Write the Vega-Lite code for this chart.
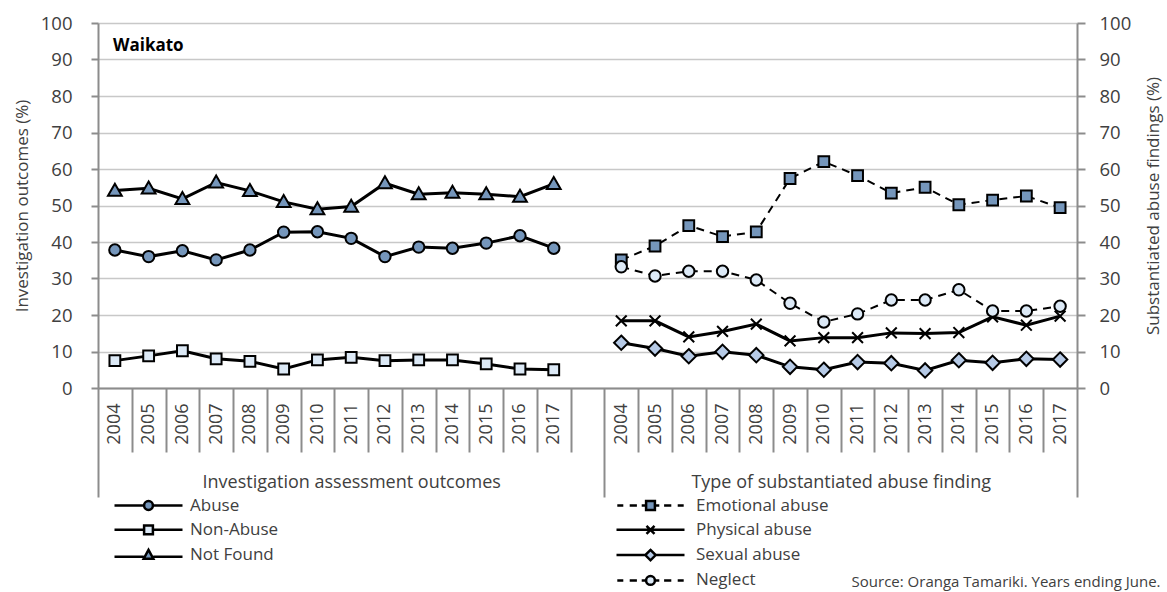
{
  "$schema": "https://vega.github.io/schema/vega-lite/v6.json",
  "width": 979,
  "height": 365,
  "autosize": {"type": "none"},
  "padding": {"left": 98, "top": 23, "right": 90, "bottom": 204},
  "config": {"view": {"stroke": null}, "font": "Open Sans"},
  "title": {"text": "Waikato", "anchor": "start", "frame": "group", "orient": "top", "offset": -49, "baseline": "middle", "dx": 15, "fontSize": 17, "fontWeight": "bold", "color": "#000000", "font": "Open Sans"},
  "datasets": {
    "d": [
      {"key": "L2004", "series": "Abuse", "value": 37.8},
      {"key": "L2005", "series": "Abuse", "value": 36.0},
      {"key": "L2006", "series": "Abuse", "value": 37.6},
      {"key": "L2007", "series": "Abuse", "value": 35.1},
      {"key": "L2008", "series": "Abuse", "value": 37.8},
      {"key": "L2009", "series": "Abuse", "value": 42.7},
      {"key": "L2010", "series": "Abuse", "value": 42.8},
      {"key": "L2011", "series": "Abuse", "value": 41.0},
      {"key": "L2012", "series": "Abuse", "value": 36.0},
      {"key": "L2013", "series": "Abuse", "value": 38.6},
      {"key": "L2014", "series": "Abuse", "value": 38.3},
      {"key": "L2015", "series": "Abuse", "value": 39.7},
      {"key": "L2016", "series": "Abuse", "value": 41.7},
      {"key": "L2017", "series": "Abuse", "value": 38.3},
      {"key": "L2004", "series": "Non-Abuse", "value": 7.5},
      {"key": "L2005", "series": "Non-Abuse", "value": 8.8},
      {"key": "L2006", "series": "Non-Abuse", "value": 10.2},
      {"key": "L2007", "series": "Non-Abuse", "value": 8.0},
      {"key": "L2008", "series": "Non-Abuse", "value": 7.3},
      {"key": "L2009", "series": "Non-Abuse", "value": 5.2},
      {"key": "L2010", "series": "Non-Abuse", "value": 7.7},
      {"key": "L2011", "series": "Non-Abuse", "value": 8.4},
      {"key": "L2012", "series": "Non-Abuse", "value": 7.5},
      {"key": "L2013", "series": "Non-Abuse", "value": 7.7},
      {"key": "L2014", "series": "Non-Abuse", "value": 7.7},
      {"key": "L2015", "series": "Non-Abuse", "value": 6.6},
      {"key": "L2016", "series": "Non-Abuse", "value": 5.2},
      {"key": "L2017", "series": "Non-Abuse", "value": 5.0},
      {"key": "L2004", "series": "Not Found", "value": 54.1},
      {"key": "L2005", "series": "Not Found", "value": 54.7},
      {"key": "L2006", "series": "Not Found", "value": 51.8},
      {"key": "L2007", "series": "Not Found", "value": 56.3},
      {"key": "L2008", "series": "Not Found", "value": 54.0},
      {"key": "L2009", "series": "Not Found", "value": 51.0},
      {"key": "L2010", "series": "Not Found", "value": 49.0},
      {"key": "L2011", "series": "Not Found", "value": 49.7},
      {"key": "L2012", "series": "Not Found", "value": 56.1},
      {"key": "L2013", "series": "Not Found", "value": 53.1},
      {"key": "L2014", "series": "Not Found", "value": 53.5},
      {"key": "L2015", "series": "Not Found", "value": 53.1},
      {"key": "L2016", "series": "Not Found", "value": 52.4},
      {"key": "L2017", "series": "Not Found", "value": 55.9},
      {"key": "R2004", "series": "Emotional abuse", "value": 35.1},
      {"key": "R2005", "series": "Emotional abuse", "value": 38.9},
      {"key": "R2006", "series": "Emotional abuse", "value": 44.5},
      {"key": "R2007", "series": "Emotional abuse", "value": 41.5},
      {"key": "R2008", "series": "Emotional abuse", "value": 42.8},
      {"key": "R2009", "series": "Emotional abuse", "value": 57.4},
      {"key": "R2010", "series": "Emotional abuse", "value": 62.0},
      {"key": "R2011", "series": "Emotional abuse", "value": 58.2},
      {"key": "R2012", "series": "Emotional abuse", "value": 53.4},
      {"key": "R2013", "series": "Emotional abuse", "value": 55.0},
      {"key": "R2014", "series": "Emotional abuse", "value": 50.2},
      {"key": "R2015", "series": "Emotional abuse", "value": 51.5},
      {"key": "R2016", "series": "Emotional abuse", "value": 52.6},
      {"key": "R2017", "series": "Emotional abuse", "value": 49.4},
      {"key": "R2004", "series": "Physical abuse", "value": 18.4},
      {"key": "R2005", "series": "Physical abuse", "value": 18.4},
      {"key": "R2006", "series": "Physical abuse", "value": 14.0},
      {"key": "R2007", "series": "Physical abuse", "value": 15.5},
      {"key": "R2008", "series": "Physical abuse", "value": 17.5},
      {"key": "R2009", "series": "Physical abuse", "value": 12.9},
      {"key": "R2010", "series": "Physical abuse", "value": 13.8},
      {"key": "R2011", "series": "Physical abuse", "value": 13.8},
      {"key": "R2012", "series": "Physical abuse", "value": 15.1},
      {"key": "R2013", "series": "Physical abuse", "value": 14.9},
      {"key": "R2014", "series": "Physical abuse", "value": 15.2},
      {"key": "R2015", "series": "Physical abuse", "value": 19.5},
      {"key": "R2016", "series": "Physical abuse", "value": 17.2},
      {"key": "R2017", "series": "Physical abuse", "value": 19.7},
      {"key": "R2004", "series": "Sexual abuse", "value": 12.4},
      {"key": "R2005", "series": "Sexual abuse", "value": 10.8},
      {"key": "R2006", "series": "Sexual abuse", "value": 8.7},
      {"key": "R2007", "series": "Sexual abuse", "value": 9.9},
      {"key": "R2008", "series": "Sexual abuse", "value": 9.0},
      {"key": "R2009", "series": "Sexual abuse", "value": 5.8},
      {"key": "R2010", "series": "Sexual abuse", "value": 5.0},
      {"key": "R2011", "series": "Sexual abuse", "value": 7.1},
      {"key": "R2012", "series": "Sexual abuse", "value": 6.8},
      {"key": "R2013", "series": "Sexual abuse", "value": 4.8},
      {"key": "R2014", "series": "Sexual abuse", "value": 7.6},
      {"key": "R2015", "series": "Sexual abuse", "value": 6.9},
      {"key": "R2016", "series": "Sexual abuse", "value": 8.0},
      {"key": "R2017", "series": "Sexual abuse", "value": 7.8},
      {"key": "R2004", "series": "Neglect", "value": 33.2},
      {"key": "R2005", "series": "Neglect", "value": 30.7},
      {"key": "R2006", "series": "Neglect", "value": 32.0},
      {"key": "R2007", "series": "Neglect", "value": 32.0},
      {"key": "R2008", "series": "Neglect", "value": 29.6},
      {"key": "R2009", "series": "Neglect", "value": 23.2},
      {"key": "R2010", "series": "Neglect", "value": 18.1},
      {"key": "R2011", "series": "Neglect", "value": 20.3},
      {"key": "R2012", "series": "Neglect", "value": 24.1},
      {"key": "R2013", "series": "Neglect", "value": 24.1},
      {"key": "R2014", "series": "Neglect", "value": 26.9},
      {"key": "R2015", "series": "Neglect", "value": 21.1},
      {"key": "R2016", "series": "Neglect", "value": 21.1},
      {"key": "R2017", "series": "Neglect", "value": 22.4}
    ],
    "g": [{"p": 0, "v": 0}]
  },
  "layer": [
    {
      "data": {"name": "d"},
      "encoding": {
        "x": {
          "field": "key", "type": "ordinal", "sort": null, "bandPosition": 0.5,
          "scale": {"type": "band", "paddingInner": 0, "paddingOuter": 0,
            "domain": ["L2004","L2005","L2006","L2007","L2008","L2009","L2010","L2011","L2012","L2013","L2014","L2015","L2016","L2017","gap","R2004","R2005","R2006","R2007","R2008","R2009","R2010","R2011","R2012","R2013","R2014","R2015","R2016","R2017"]},
          "axis": {"title": null, "orient": "bottom", "ticks": false, "labels": false, "domainColor": "#8c8c8c", "domainWidth": 2, "grid": false}
        },
        "y": {
          "field": "value", "type": "quantitative",
          "scale": {"domain": [0, 100], "nice": false},
          "axis": {"orient": "left", "values": [0,10,20,30,40,50,60,70,80,90,100], "grid": true, "gridColor": "#c8c8c8", "gridWidth": 1.5,
            "domainColor": "#8c8c8c", "domainWidth": 2, "tickColor": "#8c8c8c", "tickWidth": 2, "tickSize": 7,
            "labelPadding": 19, "labelFontSize": 18.5, "labelColor": "#404040", "labelFont": "Open Sans",
            "title": "Investigation outcomes (%)", "titleFontSize": 17, "titleFontWeight": "normal", "titleColor": "#404040", "titleFont": "Open Sans", "titlePadding": 9}
        }
      },
      "layer": [
        {
          "transform": [{"filter": {"field": "series", "oneOf": ["Abuse", "Non-Abuse", "Not Found", "Physical abuse", "Sexual abuse"]}}],
          "mark": {"type": "line", "color": "#000000", "strokeWidth": 3},
          "encoding": {"detail": {"field": "series"}}
        },
        {
          "transform": [{"filter": {"field": "series", "oneOf": ["Emotional abuse", "Neglect"]}}],
          "mark": {"type": "line", "color": "#000000", "strokeWidth": 2, "strokeDash": [8, 6]},
          "encoding": {"detail": {"field": "series"}}
        },
        {
          "transform": [{"filter": {"field": "series", "equal": "Abuse"}}],
          "mark": {"type": "point", "filled": true, "fill": "#7596bb", "stroke": "#000000", "strokeWidth": 2, "size": 144, "opacity": 1,
            "shape": "M-0.95,0A0.95,0.95 0 1,1 0.95,0A0.95,0.95 0 1,1 -0.95,0Z"}
        },
        {
          "transform": [{"filter": {"field": "series", "equal": "Non-Abuse"}}],
          "mark": {"type": "point", "filled": true, "fill": "#dce9f6", "stroke": "#000000", "strokeWidth": 2, "size": 144, "opacity": 1,
            "shape": "M-0.9,-0.9H0.9V0.9H-0.9Z"}
        },
        {
          "transform": [{"filter": {"field": "series", "equal": "Not Found"}}],
          "mark": {"type": "point", "filled": true, "fill": "#7596bb", "stroke": "#000000", "strokeWidth": 2, "size": 144, "opacity": 1,
            "shape": "M0,-1.15L1.15,0.85L-1.15,0.85Z"}
        },
        {
          "transform": [{"filter": {"field": "series", "equal": "Emotional abuse"}}],
          "mark": {"type": "point", "filled": true, "fill": "#7596bb", "stroke": "#000000", "strokeWidth": 2, "size": 144, "opacity": 1,
            "shape": "M-0.9,-0.9H0.9V0.9H-0.9Z"}
        },
        {
          "transform": [{"filter": {"field": "series", "equal": "Physical abuse"}}],
          "mark": {"type": "point", "filled": true, "fill": "#000000", "stroke": "#000000", "strokeWidth": 2, "size": 144, "opacity": 1,
            "shape": "M-0.9,-0.9L0.9,0.9M-0.9,0.9L0.9,-0.9"}
        },
        {
          "transform": [{"filter": {"field": "series", "equal": "Sexual abuse"}}],
          "mark": {"type": "point", "filled": true, "fill": "#b6cae6", "stroke": "#000000", "strokeWidth": 2, "size": 144, "opacity": 1,
            "shape": "M0,-1.2L1.2,0L0,1.2L-1.2,0Z"}
        },
        {
          "transform": [{"filter": {"field": "series", "equal": "Neglect"}}],
          "mark": {"type": "point", "filled": true, "fill": "#dce9f6", "stroke": "#000000", "strokeWidth": 2, "size": 144, "opacity": 1,
            "shape": "M-0.95,0A0.95,0.95 0 1,1 0.95,0A0.95,0.95 0 1,1 -0.95,0Z"}
        },
        {
          "transform": [{"filter": "false"}],
          "mark": {"type": "point", "filled": true, "stroke": "#000000", "strokeWidth": 2.5, "size": 64, "opacity": 1},
          "encoding": {
            "shape": {"field": "series", "type": "nominal",
              "scale": {"domain": ["Abuse", "Non-Abuse", "Not Found"],
                "range": [
                  "M-8.5,0H-1.1M1.1,0H8.5M-1.1,0A1.1,1.1 0 1,1 1.1,0A1.1,1.1 0 1,1 -1.1,0Z",
                  "M-8.5,0H-1.1M1.1,0H8.5M-1.1,-1.1H1.1V1.1H-1.1Z",
                  "M-8.5,0.4H-1.2M1.2,0.4H8.5M0,-1.3L1.2,0.9L-1.2,0.9Z"
                ]},
              "legend": {"orient": "none", "legendX": 42, "legendY": 474, "title": null, "padding": 0, "symbolSize": 64,
                "symbolStrokeColor": "#000000", "symbolStrokeWidth": 2.5, "labelFontSize": 17, "labelFont": "Open Sans", "labelColor": "#404040",
                "labelOffset": 33, "rowPadding": 5.3, "labelLimit": 400}},
            "stroke": {"field": "series", "type": "nominal",
              "scale": {"domain": ["Abuse", "Non-Abuse", "Not Found"], "range": ["#000000", "#000000", "#000000"]},
              "legend": {"orient": "none", "legendX": 42, "legendY": 474, "title": null, "padding": 0, "symbolSize": 64,
                "symbolStrokeColor": "#000000", "symbolStrokeWidth": 2.5, "labelFontSize": 17, "labelFont": "Open Sans", "labelColor": "#404040",
                "labelOffset": 33, "rowPadding": 5.3, "labelLimit": 400}},
            "fill": {"field": "series", "type": "nominal",
              "scale": {"domain": ["Abuse", "Non-Abuse", "Not Found"], "range": ["#7596bb", "#dce9f6", "#7596bb"]},
              "legend": {"orient": "none", "legendX": 42, "legendY": 474, "title": null, "padding": 0, "symbolSize": 64,
                "symbolStrokeColor": "#000000", "symbolStrokeWidth": 2.5, "labelFontSize": 17, "labelFont": "Open Sans", "labelColor": "#404040",
                "labelOffset": 33, "rowPadding": 5.3, "labelLimit": 400}}
          }
        },
        {
          "transform": [{"filter": "false"}],
          "mark": {"type": "point", "filled": true, "stroke": "#000000", "strokeWidth": 2.5, "size": 64, "opacity": 1},
          "encoding": {
            "shape": {"field": "series", "type": "nominal",
              "scale": {"domain": ["Emotional abuse", "Physical abuse", "Sexual abuse", "Neglect"],
                "range": [
                  "M-8.3,0H-6.8M-5.2,0H-3.4M-2.2,0H-1.1M1.1,0H2.2M3.4,0H5.2M6.8,0H8.3M-1.1,-1.1H1.1V1.1H-1.1Z",
                  "M-8.5,0H8.5M-1,-1L1,1M-1,1L1,-1",
                  "M-8.5,0H-1.3M1.3,0H8.5M0,-1.3L1.3,0L0,1.3L-1.3,0Z",
                  "M-8.3,0H-6.8M-5.2,0H-3.4M-2.2,0H-1.1M1.1,0H2.2M3.4,0H5.2M6.8,0H8.3M-1.1,0A1.1,1.1 0 1,1 1.1,0A1.1,1.1 0 1,1 -1.1,0Z"
                ]},
              "legend": {"orient": "none", "legendX": 544, "legendY": 474, "title": null, "padding": 0, "symbolSize": 64,
                "symbolStrokeColor": "#000000", "symbolStrokeWidth": 2.5, "labelFontSize": 17, "labelFont": "Open Sans", "labelColor": "#404040",
                "labelOffset": 37, "rowPadding": 5.3, "labelLimit": 400}},
            "stroke": {"field": "series", "type": "nominal",
              "scale": {"domain": ["Emotional abuse", "Physical abuse", "Sexual abuse", "Neglect"], "range": ["#000000", "#000000", "#000000", "#000000"]},
              "legend": {"orient": "none", "legendX": 544, "legendY": 474, "title": null, "padding": 0, "symbolSize": 64,
                "symbolStrokeColor": "#000000", "symbolStrokeWidth": 2.5, "labelFontSize": 17, "labelFont": "Open Sans", "labelColor": "#404040",
                "labelOffset": 37, "rowPadding": 5.3, "labelLimit": 400}},
            "fill": {"field": "series", "type": "nominal",
              "scale": {"domain": ["Emotional abuse", "Physical abuse", "Sexual abuse", "Neglect"], "range": ["#7596bb", "#000000", "#b6cae6", "#dce9f6"]},
              "legend": {"orient": "none", "legendX": 544, "legendY": 474, "title": null, "padding": 0, "symbolSize": 64,
                "symbolStrokeColor": "#000000", "symbolStrokeWidth": 2.5, "labelFontSize": 17, "labelFont": "Open Sans", "labelColor": "#404040",
                "labelOffset": 37, "rowPadding": 5.3, "labelLimit": 400}}
          }
        }
      ],
      "resolve": {"scale": {"shape": "independent", "fill": "independent", "stroke": "independent"}}
    },
    {
      "data": {"name": "g"},
      "mark": {"type": "point", "opacity": 0},
      "encoding": {
        "x": {"field": "p", "type": "quantitative", "scale": {"domain": [0, 29], "nice": false, "zero": false},
          "axis": {"orient": "bottom", "values": [0,1,2,3,4,5,6,7,7.5,8,9,10,11,12,13,14,15,16,17,18,19,20,21,22,23,24,25,26,27,28,29], "domain": false, "grid": false,
            "tickSize": {"condition": {"test": "datum.value == 0 || datum.value == 15 || datum.value == 29", "value": 109}, "value": 64},
            "tickColor": "#8c8c8c", "tickWidth": 2,
            "tickOpacity": {"condition": {"test": "datum.value == 7.5", "value": 0}, "value": 1},
            "labelExpr": "datum.value == 7.5 ? 'Investigation assessment outcomes' : datum.value == 22 ? 'Type of substantiated abuse finding' : ''",
            "labelPadding": 21, "labelFontSize": 18, "labelFont": "Open Sans", "labelColor": "#404040",
            "labelOverlap": false, "labelFlush": false, "labelBound": false, "labelLimit": 500,
            "title": "Source: Oranga Tamariki. Years ending June.", "titleX": 1062, "titleY": 193, "titleAlign": "right", "titleBaseline": "middle", "titleAnchor": null,
            "titleFontSize": 15, "titleFontWeight": "normal", "titleColor": "#404040", "titleFont": "Open Sans"}},
        "y": {"field": "v", "type": "quantitative", "scale": {"domain": [0, 100], "nice": false},
          "axis": {"orient": "right", "values": [0,10,20,30,40,50,60,70,80,90,100], "grid": false,
            "domainColor": "#8c8c8c", "domainWidth": 2, "tickColor": "#8c8c8c", "tickWidth": 2, "tickSize": 8,
            "labelPadding": 14, "labelFontSize": 18.5, "labelColor": "#404040", "labelFont": "Open Sans",
            "title": "Substantiated abuse findings (%)", "titleAngle": 270, "titleFontSize": 17, "titleFontWeight": "normal",
            "titleColor": "#404040", "titleFont": "Open Sans", "titlePadding": 32}}
      }
    },
    {
      "data": {"name": "g"},
      "mark": {"type": "point", "opacity": 0},
      "encoding": {
        "x": {"field": "p", "type": "quantitative", "scale": {"domain": [0, 29], "nice": false, "zero": false},
          "axis": {"orient": "bottom", "title": null, "domain": false, "grid": false, "ticks": false, "tickSize": 0,
            "values": [0.5,1.5,2.5,3.5,4.5,5.5,6.5,7.5,8.5,9.5,10.5,11.5,12.5,13.5,15.5,16.5,17.5,18.5,19.5,20.5,21.5,22.5,23.5,24.5,25.5,26.5,27.5,28.5],
            "labelExpr": "toString(datum.value < 14 ? 2004 + floor(datum.value) : 1989 + floor(datum.value))",
            "labelAngle": -90, "labelAlign": "right", "labelBaseline": "middle", "labelPadding": 15,
            "labelFontSize": 18, "labelFont": "Open Sans", "labelColor": "#404040",
            "labelOverlap": false, "labelFlush": false, "labelBound": false}}
      }
    }
  ],
  "resolve": {"scale": {"x": "independent", "y": "independent"}}
}
